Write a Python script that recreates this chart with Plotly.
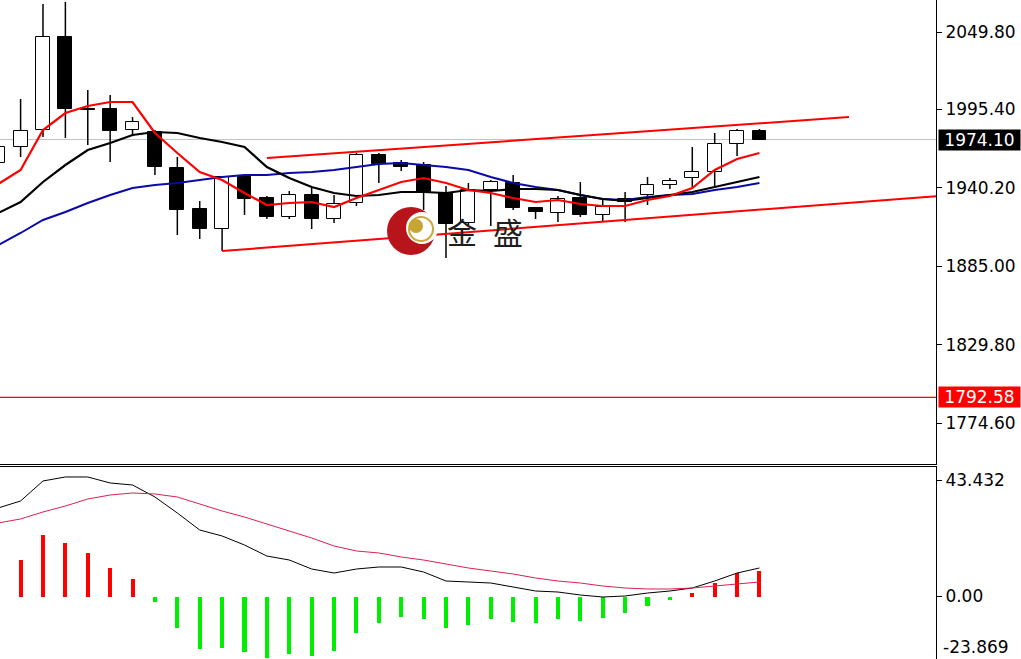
import plotly.graph_objects as go

# ---------------- data ----------------
bar_index = list(range(35))

opens = [1957.60, 1968.86, 1980.82, 2046.28, 1995.61, 1995.61, 1980.82, 1979.42, 1954.08, 1925.22,
         1911.15, 1947.74, 1932.96, 1919.59, 1935.08, 1918.18, 1929.45, 1963.23, 1957.60, 1956.19,
         1936.48, 1915.37, 1938.59, 1943.52, 1925.93, 1922.41, 1932.96, 1921.00, 1930.15, 1935.08,
         1942.11, 1947.04, 1951.26, 1970.97, 1980.12]
highs = [1973.79, 2002.64, 2069.51, 2070.91, 2008.98, 2005.46, 1989.97, 1980.82, 1961.82, 1930.85,
         1948.45, 1948.45, 1934.37, 1937.89, 1940.00, 1935.08, 1964.64, 1964.64, 1959.71, 1958.30,
         1941.41, 1943.52, 1945.63, 1949.15, 1926.63, 1934.37, 1944.23, 1931.56, 1937.19, 1947.74,
         1947.04, 1968.86, 1978.71, 1981.53, 1981.53]
lows = [1952.67, 1961.82, 1975.90, 1975.19, 1970.27, 1958.30, 1977.31, 1949.15, 1906.92, 1904.11,
        1895.66, 1921.00, 1918.18, 1918.18, 1911.15, 1915.37, 1927.33, 1943.52, 1951.97, 1924.52,
        1890.73, 1913.96, 1913.26, 1924.52, 1918.18, 1916.07, 1919.59, 1916.07, 1916.07, 1928.04,
        1939.30, 1940.71, 1940.71, 1962.53, 1974.10]
closes = [1968.86, 1980.12, 2046.28, 1995.61, 1994.90, 1980.12, 1986.46, 1954.78, 1924.52, 1911.15,
          1947.74, 1932.26, 1919.59, 1935.08, 1918.18, 1928.74, 1963.23, 1956.89, 1954.78, 1936.48,
          1914.66, 1938.59, 1944.23, 1925.93, 1923.11, 1932.26, 1921.00, 1926.63, 1932.26, 1942.11,
          1944.93, 1951.26, 1970.97, 1980.12, 1974.10]

ma_fast = [1942.82, 1952.67, 1980.82, 1992.79, 1997.72, 2000.53, 2000.53, 1978.71, 1964.64, 1951.26,
           1945.63, 1936.48, 1928.04, 1929.45, 1930.15, 1926.63, 1932.96, 1938.59, 1944.23, 1947.04,
           1943.52, 1938.59, 1936.48, 1932.96, 1930.15, 1931.56, 1928.74, 1927.33, 1927.33, 1931.56,
           1934.37, 1940.00, 1952.67, 1960.41, 1964.64]
ma_mid = [1922.41, 1930.15, 1944.23, 1956.19, 1966.75, 1971.67, 1977.31, 1979.42, 1978.71, 1975.19,
          1972.38, 1968.86, 1954.78, 1947.04, 1940.71, 1936.48, 1934.37, 1935.08, 1937.19, 1937.19,
          1936.48, 1938.59, 1937.89, 1939.30, 1939.30, 1938.59, 1935.08, 1932.26, 1930.85, 1932.96,
          1935.08, 1937.19, 1940.71, 1944.23, 1947.74]
ma_slow = [1899.88, 1908.33, 1917.48, 1923.11, 1929.45, 1935.08, 1940.00, 1942.11, 1943.52, 1945.63,
           1947.74, 1949.15, 1949.15, 1950.56, 1951.26, 1952.67, 1954.78, 1956.89, 1957.60, 1956.19,
           1954.78, 1952.67, 1947.74, 1943.52, 1940.71, 1938.59, 1935.08, 1932.26, 1931.56, 1933.67,
           1935.08, 1935.78, 1938.59, 1940.71, 1943.52]

macd_hist = [11.37, 13.61, 22.93, 19.95, 16.22, 10.63, 6.52, -2.05, -11.74, -19.57,
             -19.20, -20.69, -22.93, -21.44, -22.18, -20.32, -13.61, -9.88, -7.64, -8.39,
             -11.74, -10.63, -8.39, -9.51, -9.88, -8.39, -9.13, -8.02, -6.15, -3.54,
             -1.30, 1.30, 5.03, 8.76, 9.51]
macd_dif = [33.00, 35.61, 43.07, 44.56, 44.56, 42.32, 41.57, 37.10, 31.13, 24.79,
            22.56, 19.20, 15.10, 13.61, 10.25, 8.76, 10.25, 11.00, 11.00, 9.13,
            5.78, 5.41, 5.03, 3.54, 2.05, 1.68, 0.56, -0.19, 0.19, 1.30,
            2.05, 3.17, 5.78, 8.76, 10.63]
macd_dea = [27.41, 28.90, 31.51, 33.74, 36.35, 37.84, 38.59, 38.22, 37.10, 34.49,
            31.88, 29.64, 27.03, 24.42, 21.81, 18.83, 16.97, 16.22, 14.73, 13.61,
            12.12, 10.63, 9.51, 8.39, 6.90, 5.78, 5.03, 3.91, 3.17, 2.80,
            2.80, 3.17, 3.91, 4.66, 5.41]

channel_upper_x = [12, 38]
channel_upper_y = [1961.1, 1989.9]
channel_lower_x = [10, 42]
channel_lower_y = [1895.66, 1934.4]

last_price = 1974.10
level_price = 1792.58

price_tick_values = [2049.80, 1995.40, 1940.20, 1885.00, 1829.80, 1774.60]
price_tick_labels = ["2049.80", "1995.40", "1940.20", "1885.00", "1829.80", "1774.60"]
macd_tick_values = [43.432, 0.0]
macd_tick_labels = ["43.432", "0.00"]
macd_min_label = "-23.869"

# ---------------- figure ----------------
W, H = 1021, 659
PLOT_W = 936
FONT = "DejaVu Sans"

x_range = [0.08, 41.885]
y_range = [1745.75, 2072.32]
y2_range = [-23.30, 48.28]
main_dom = [(H - 464) / H, 1.0]
macd_dom = [0.0, (H - 467) / H]

fig = go.Figure()

# wicks
wx, wy = [], []
for i, o, h, l, c in zip(bar_index, opens, highs, lows, closes):
    top, bot = max(o, c), min(o, c)
    wx += [i, i, None, i, i, None]
    wy += [top, h, None, bot, l, None]
fig.add_trace(go.Scatter(x=wx, y=wy, mode="lines", line=dict(color="black", width=1.5),
                         hoverinfo="skip", showlegend=False, xaxis="x", yaxis="y"))

# bodies
fig.add_trace(go.Bar(
    x=bar_index,
    y=[max(abs(c - o), 0.3) for o, c in zip(opens, closes)],
    base=[min(o, c) for o, c in zip(opens, closes)],
    width=0.62,
    marker=dict(color=["white" if c >= o else "black" for o, c in zip(opens, closes)],
                line=dict(color="black", width=1)),
    showlegend=False, xaxis="x", yaxis="y"))

# moving averages
fig.add_trace(go.Scatter(x=bar_index, y=ma_slow, mode="lines", line=dict(color="#0a0aa8", width=2),
                         showlegend=False, xaxis="x", yaxis="y"))
fig.add_trace(go.Scatter(x=bar_index, y=ma_mid, mode="lines", line=dict(color="black", width=2.2),
                         showlegend=False, xaxis="x", yaxis="y"))
fig.add_trace(go.Scatter(x=bar_index, y=ma_fast, mode="lines", line=dict(color="#ff0000", width=2.2),
                         showlegend=False, xaxis="x", yaxis="y"))

# channel lines
fig.add_trace(go.Scatter(x=channel_upper_x, y=channel_upper_y, mode="lines",
                         line=dict(color="#ff0000", width=2), showlegend=False, xaxis="x", yaxis="y"))
fig.add_trace(go.Scatter(x=channel_lower_x, y=channel_lower_y, mode="lines",
                         line=dict(color="#ff0000", width=2), showlegend=False, xaxis="x", yaxis="y"))

# MACD
fig.add_trace(go.Bar(x=bar_index, y=macd_hist, width=0.18,
                     marker=dict(color=["#ff0000" if v >= 0 else "#00ee00" for v in macd_hist], line=dict(width=0)),
                     showlegend=False, xaxis="x2", yaxis="y2"))
fig.add_trace(go.Scatter(x=bar_index, y=macd_dif, mode="lines", line=dict(color="black", width=1),
                         showlegend=False, xaxis="x2", yaxis="y2"))
fig.add_trace(go.Scatter(x=bar_index, y=macd_dea, mode="lines", line=dict(color="#dc2050", width=1),
                         showlegend=False, xaxis="x2", yaxis="y2"))

shapes = [
    dict(type="line", xref="paper", x0=0, x1=1, yref="y", y0=last_price, y1=last_price,
         line=dict(color="#c0c0c0", width=1), layer="below"),
    dict(type="line", xref="paper", x0=0, x1=1, yref="y", y0=level_price, y1=level_price,
         line=dict(color="#ff0000", width=1.2), layer="above"),
]


def px(xp):
    return xp / PLOT_W


def py(yp):
    return (H - yp) / H


def circle(cx, cy, r, color, line=None):
    return dict(type="circle", xref="paper", yref="paper",
                x0=px(cx - r), x1=px(cx + r), y0=py(cy + r), y1=py(cy - r),
                fillcolor=color, line=line or dict(width=0), layer="above")


# watermark logo
shapes += [
    circle(411, 231, 24, "#b8141c"),
    circle(422, 228, 16, "white"),
    circle(421, 229, 12, "rgba(0,0,0,0)", dict(color="#c9a93a", width=2)),
    circle(416, 226, 7, "#c8a532"),
]

annotations = [
    dict(text="金", xref="paper", yref="paper", x=px(462), y=py(231), showarrow=False,
         font=dict(family="Noto Sans CJK SC", size=30, color="#1e1e1e")),
    dict(text="盛", xref="paper", yref="paper", x=px(508), y=py(231), showarrow=False,
         font=dict(family="Noto Sans CJK SC", size=30, color="#1e1e1e")),
    dict(text=f"{last_price:.2f}", xref="paper", x=1, xshift=2, xanchor="left", yref="y", y=last_price,
         yanchor="middle", showarrow=False, bgcolor="black", width=81, borderpad=0,
         font=dict(family=FONT, size=17, color="white")),
    dict(text=f"{level_price:.2f}", xref="paper", x=1, xshift=2, xanchor="left", yref="y", y=level_price,
         yanchor="middle", showarrow=False, bgcolor="#ff0000", width=81, borderpad=0,
         font=dict(family=FONT, size=17, color="white")),
    dict(text=macd_min_label, xref="paper", x=1, xshift=5, xanchor="left", yref="paper", y=0,
         yanchor="bottom", showarrow=False, font=dict(family=FONT, size=17, color="black")),
]

fig.update_layout(
    width=W, height=H,
    margin=dict(l=0, r=W - PLOT_W, t=0, b=0),
    paper_bgcolor="white", plot_bgcolor="white",
    bargap=0, showlegend=False,
    font=dict(family=FONT, size=17, color="black"),
    xaxis=dict(domain=[0, 1], range=x_range, anchor="y", showgrid=False, zeroline=False,
               showticklabels=False, ticks="", showline=True, linecolor="black", linewidth=1),
    xaxis2=dict(domain=[0, 1], range=x_range, anchor="y2", matches="x", side="top", showgrid=False,
                zeroline=False, showticklabels=False, ticks="", showline=True, linecolor="black", linewidth=1),
    yaxis=dict(domain=main_dom, range=y_range, side="right", anchor="x", showgrid=False, zeroline=False,
               tickmode="array", tickvals=price_tick_values, ticktext=price_tick_labels,
               ticks="outside", ticklen=5, tickcolor="black", showline=True, linecolor="black", linewidth=1,
               tickfont=dict(family=FONT, size=17, color="black")),
    yaxis2=dict(domain=macd_dom, range=y2_range, side="right", anchor="x2", showgrid=False, zeroline=False,
                tickmode="array", tickvals=macd_tick_values, ticktext=macd_tick_labels,
                ticks="outside", ticklen=5, tickcolor="black", showline=True, linecolor="black", linewidth=1,
                tickfont=dict(family=FONT, size=17, color="black")),
    shapes=shapes,
    annotations=annotations,
)

fig.write_html("out.html", config={"displayModeBar": False},
               post_script="document.body.style.margin='0';")
